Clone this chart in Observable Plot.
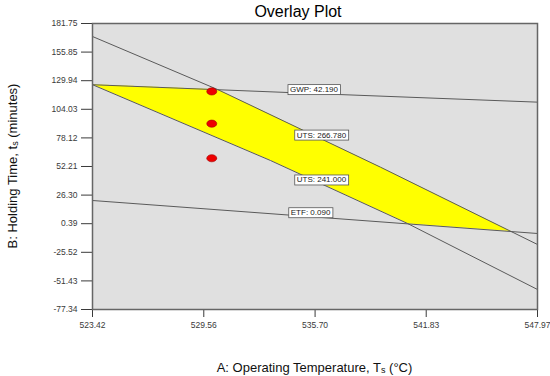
<!DOCTYPE html>
<html><head><meta charset="utf-8">
<script src="https://cdn.jsdelivr.net/npm/d3@7"></script>
<script src="https://cdn.jsdelivr.net/npm/@observablehq/plot@0.6"></script>
<style>body{margin:0;background:#fff;} svg{display:block}</style>
</head><body><div id="chart"></div>
<script>
// Axis ticks
const xTicks = [523.42, 529.56, 535.70, 541.83, 547.97];
const yTicks = [181.75, 155.85, 129.94, 104.03, 78.12, 52.21, 26.30, 0.39, -25.52, -51.43, -77.34];
// Contour lines (A = temperature, B = holding time)
const gwpA = [523.42, 535.61, 547.97];
const gwpB = [126.3, 118.3, 110.5];
const uts266A = [523.42, 530.32, 539.31, 547.97];
const uts266B = [169.97, 121.96, 51.57, -18.45];
const uts241A = [523.42, 533.24, 540.80, 547.97];
const uts241B = [126.3, 57.64, 0.57, -59.22];
const etfA = [523.42, 547.97];
const etfB = [21.40, -8.49];
// Design points
const designA = [530.0, 530.0, 530.0];
const designB = [120.2, 91.0, 59.7];
// Contour labels
const labelText = ["GWP: 42.190", "UTS: 266.780", "UTS: 241.000", "ETF: 0.090"];
const labelA = [535.64, 536.05, 536.05, 535.45];
const labelLine = ["gwp", "uts266", "uts241", "etf"];

const curves = {
  gwp: d3.scaleLinear().domain(gwpA).range(gwpB),
  uts266: d3.scaleLinear().domain(uts266A).range(uts266B),
  uts241: d3.scaleLinear().domain(uts241A).range(uts241B),
  etf: d3.scaleLinear().domain(etfA).range(etfB)
};
const toRows = (as, bs) => as.map((a, i) => ({a, b: bs[i]}));

// feasible region: below GWP & UTS 266.78, above UTS 241 & ETF
const region = [];
for (let a = xTicks[0]; a <= xTicks[4] + 1e-9; a += 0.01) {
  const hi = Math.min(curves.gwp(a), curves.uts266(a));
  const lo = Math.max(curves.uts241(a), curves.etf(a));
  if (hi >= lo) region.push({a, lo, hi});
}
const labels = labelText.map((t, i) => ({t, a: labelA[i], b: curves[labelLine[i]](labelA[i])}));
const design = designA.map((a, i) => ({a, b: designB[i]}));

const ellipse = {draw(ctx) {
  const rx = 5, ry = 3.6, k = 0.5523;
  ctx.moveTo(rx, 0);
  ctx.bezierCurveTo(rx, ry*k, rx*k, ry, 0, ry);
  ctx.bezierCurveTo(-rx*k, ry, -rx, ry*k, -rx, 0);
  ctx.bezierCurveTo(-rx, -ry*k, -rx*k, -ry, 0, -ry);
  ctx.bezierCurveTo(rx*k, -ry, rx, -ry*k, rx, 0);
  ctx.closePath();
}};

const lineStyle = {x: "a", y: "b", stroke: "#5a5a5a", strokeWidth: 1};
const fmt = d => d.toFixed(2);

const plot = Plot.plot({
  width: 550, height: 376,
  marginLeft: 92, marginRight: 13, marginTop: 23, marginBottom: 67,
  style: {fontFamily: "'Liberation Sans', Arial, sans-serif", fontSize: "8.5px", color: "#3a3a3a", background: "#fff"},
  x: {domain: [xTicks[0], xTicks[4]], ticks: xTicks, tickFormat: fmt, label: null, tickSize: 8, tickPadding: 4},
  y: {domain: [yTicks[10], yTicks[0]], ticks: yTicks, tickFormat: fmt, label: null, tickSize: 11, tickPadding: 4},
  marks: [
    Plot.frame({fill: "#e0e0e0"}),
    Plot.areaY(region, {x: "a", y1: "lo", y2: "hi", fill: "#ffff00"}),
    Plot.line(toRows(gwpA, gwpB), lineStyle),
    Plot.line(toRows(uts266A, uts266B), lineStyle),
    Plot.line(toRows(uts241A, uts241B), lineStyle),
    Plot.line(toRows(etfA, etfB), lineStyle),
    Plot.dot(design, {x: "a", y: "b", symbol: ellipse, fill: "#ee0000", stroke: "#a00000", strokeWidth: 0.6}),
    Plot.text(labels, {x: "a", y: "b", text: "t", dy: -4, fontSize: 8, fill: "#222"}),
    Plot.frame({stroke: "#666", strokeWidth: 1.5})
  ]
});
document.getElementById("chart").appendChild(plot);

const svg = d3.select(plot);
// boxes behind contour labels
svg.selectAll("text").filter(function() { return labelText.includes(this.textContent); }).each(function() {
  const bb = this.getBBox();
  const r = document.createElementNS("http://www.w3.org/2000/svg", "rect");
  r.setAttribute("x", bb.x - 2); r.setAttribute("y", bb.y - 0.5);
  r.setAttribute("width", bb.width + 4); r.setAttribute("height", bb.height + 1);
  r.setAttribute("fill", "#fff"); r.setAttribute("stroke", "#555"); r.setAttribute("stroke-width", 0.8);
  const tr = this.getAttribute("transform");
  if (tr) r.setAttribute("transform", tr);
  this.parentNode.insertBefore(r, this);
});

const font = "'Liberation Sans', Arial, sans-serif";
const x = plot.scale("x"), y = plot.scale("y");
const cx = (x.range[0] + x.range[1]) / 2;
svg.append("text").attr("x", 298).attr("y", 17).attr("text-anchor", "middle")
  .attr("font-family", font).attr("font-size", 16).attr("fill", "#000").text("Overlay Plot");

const xt = svg.append("text").attr("x", cx).attr("y", 372).attr("text-anchor", "middle")
  .attr("font-family", font).attr("font-size", 13).attr("fill", "#111");
xt.append("tspan").text("A: Operating Temperature, T");
xt.append("tspan").attr("font-size", 9).attr("dy", 1).text("s");
xt.append("tspan").attr("dy", -1).text(" (\u00B0C)");

const cy = (y.range[0] + y.range[1]) / 2;
const yt = svg.append("text").attr("transform", `translate(17,${cy}) rotate(-90)`).attr("text-anchor", "middle")
  .attr("font-family", font).attr("font-size", 13).attr("fill", "#111");
yt.append("tspan").text("B: Holding Time, t");
yt.append("tspan").attr("font-size", 9).attr("dy", 1).text("s");
yt.append("tspan").attr("dy", -1).text(" (minutes)");
</script></body></html>
